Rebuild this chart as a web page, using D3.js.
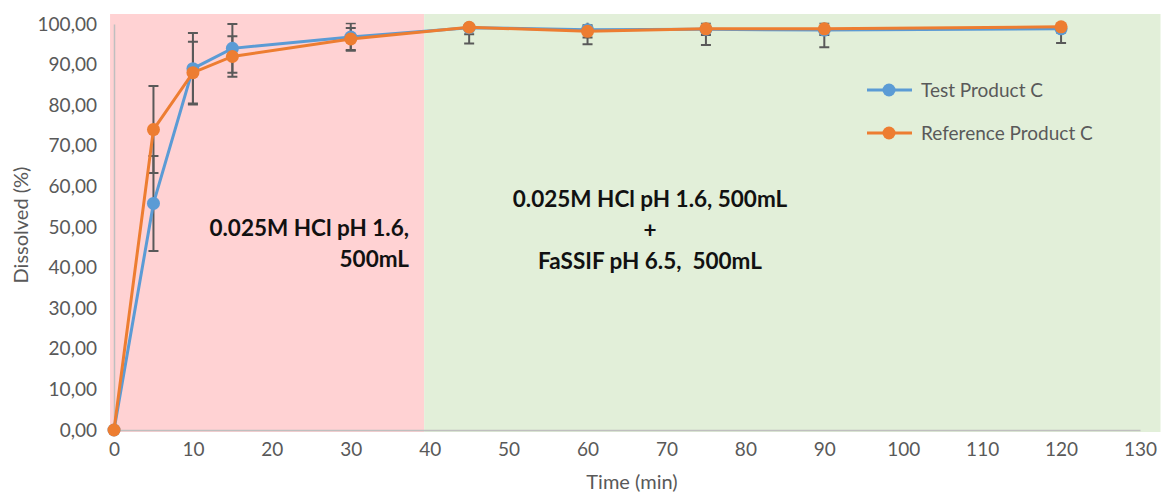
<!DOCTYPE html>
<html>
<head>
<meta charset="utf-8">
<script src="https://cdn.jsdelivr.net/npm/d3@7"></script>
<style>
  body { margin: 0; background: #fff; }
  text { font-family: Lato, "Open Sans", sans-serif; }
</style>
</head>
<body>
<div id="chart-area"></div>
<script>
const times = [0, 5, 10, 15, 30, 45, 60, 75, 90, 120]
const testValues = [0, 55.8, 89, 94, 96.8, 99.1, 98.6, 98.7, 98.5, 98.8]
const testSD = [0, 11.7, 8.8, 6, 3.4, 3.9, 3.6, 3.9, 4.2, 3.5]
const refValues = [0, 74, 88, 92, 96.3, 99.2, 98.2, 98.8, 98.8, 99.3]
const refSD = [0, 10.7, 7.6, 5, 2.7, 1.7, 1.5, 1.5, 1.5, 1.4]
const xTicks = [0, 10, 20, 30, 40, 50, 60, 70, 80, 90, 100, 110, 120, 130]
const yTicks = [0, 10, 20, 30, 40, 50, 60, 70, 80, 90, 100]
const phaseEdges = [-0.5, 39.3, 132.6]

const WIDTH = 1165
const HEIGHT = 492

const svg = d3.select("#chart-area").append("svg")
  .attr("width", WIDTH)
  .attr("height", HEIGHT)

const x = d3.scaleLinear().domain([0, 130]).range([114, 1140])
const y = d3.scaleLinear().domain([0, 100]).range([430, 24])

// background phases
svg.append("rect")
  .attr("x", x(phaseEdges[0]))
  .attr("y", 14)
  .attr("width", x(phaseEdges[1]) - x(phaseEdges[0]))
  .attr("height", 418)
  .attr("fill", "#ffd2d3")
svg.append("rect")
  .attr("x", x(phaseEdges[1]))
  .attr("y", 14)
  .attr("width", x(phaseEdges[2]) - x(phaseEdges[1]))
  .attr("height", 418)
  .attr("fill", "#e2efd9")

// axes
const fmt = d => d3.format(".2f")(d).replace(".", ",")
const yAxis = svg.append("g")
  .attr("transform", `translate(${x(0)},0)`)
  .call(d3.axisLeft(y).tickValues(yTicks).tickSize(0).tickPadding(17).tickFormat(fmt))
yAxis.select(".domain").attr("stroke", "#bfbfbf").attr("stroke-width", 1.5)
yAxis.selectAll("text").attr("fill", "#595959").style("font-size", "19px")

const xAxis = svg.append("g")
  .attr("transform", `translate(0,${y(0)})`)
  .call(d3.axisBottom(x).tickValues(xTicks).tickSize(0).tickPadding(13))
xAxis.select(".domain").attr("stroke", "#bfbfbf").attr("stroke-width", 1.5)
xAxis.selectAll("text").attr("fill", "#595959").style("font-size", "19px")

// axis labels
svg.append("text")
  .attr("x", 632)
  .attr("y", 489)
  .attr("text-anchor", "middle")
  .attr("fill", "#595959")
  .style("font-size", "20px")
  .text("Time (min)")

svg.append("text")
  .attr("transform", "translate(28,225) rotate(-90)")
  .attr("text-anchor", "middle")
  .attr("fill", "#595959")
  .style("font-size", "20px")
  .text("Dissolved (%)")

// clip for error bars
svg.append("clipPath").attr("id", "plot-clip")
  .append("rect")
  .attr("x", 100).attr("y", y(100.3))
  .attr("width", 1065).attr("height", y(-5) - y(100.3))

const series = [
  { name: "Test Product C", values: testValues, sd: testSD, color: "#5b9bd5" },
  { name: "Reference Product C", values: refValues, sd: refSD, color: "#ed7d31" }
]

// error bars
const errG = svg.append("g").attr("clip-path", "url(#plot-clip)")
series.forEach(s => {
  const pts = times.map((t, i) => ({ t, v: s.values[i], sd: s.sd[i] })).filter(d => d.sd > 0)
  const bars = errG.selectAll(null).data(pts).enter().append("g")
    .attr("stroke", "#595959").attr("stroke-width", 2)
  bars.append("line")
    .attr("x1", d => x(d.t)).attr("x2", d => x(d.t))
    .attr("y1", d => y(d.v - d.sd)).attr("y2", d => y(d.v + d.sd))
  bars.append("line")
    .attr("x1", d => x(d.t) - 5).attr("x2", d => x(d.t) + 5)
    .attr("y1", d => y(d.v - d.sd)).attr("y2", d => y(d.v - d.sd))
  bars.append("line")
    .attr("x1", d => x(d.t) - 5).attr("x2", d => x(d.t) + 5)
    .attr("y1", d => y(d.v + d.sd)).attr("y2", d => y(d.v + d.sd))
})

// lines and markers
const line = d3.line().x((d, i) => x(times[i])).y(d => y(d))
series.forEach(s => {
  svg.append("path")
    .datum(s.values)
    .attr("d", line)
    .attr("fill", "none")
    .attr("stroke", s.color)
    .attr("stroke-width", 3)
  svg.selectAll(null).data(s.values).enter().append("circle")
    .attr("cx", (d, i) => x(times[i]))
    .attr("cy", d => y(d))
    .attr("r", 6.5)
    .attr("fill", s.color)
})

// legend
series.forEach((s, i) => {
  const ly = 90 + i * 43
  svg.append("line")
    .attr("x1", 867).attr("x2", 912)
    .attr("y1", ly).attr("y2", ly)
    .attr("stroke", s.color).attr("stroke-width", 3)
  svg.append("circle")
    .attr("cx", 889).attr("cy", ly).attr("r", 6.5)
    .attr("fill", s.color)
  svg.append("text")
    .attr("x", 921).attr("y", ly)
    .attr("dy", "0.35em")
    .attr("fill", "#595959")
    .style("font-size", "19px")
    .text(s.name)
})

// phase annotations
const noteLeft = ["0.025M HCl pH 1.6,", "500mL"]
const noteRight = ["0.025M HCl pH 1.6, 500mL", "+", "FaSSIF pH 6.5,  500mL"]

svg.append("text")
  .attr("text-anchor", "end")
  .attr("fill", "#111")
  .style("font-size", "22.5px")
  .style("font-weight", "bold")
  .style("white-space", "pre")
  .selectAll("tspan").data(noteLeft).enter().append("tspan")
  .attr("x", 409)
  .attr("y", (d, i) => 236 + i * 31)
  .text(d => d)

svg.append("text")
  .attr("text-anchor", "middle")
  .attr("fill", "#111")
  .style("font-size", "22.5px")
  .style("font-weight", "bold")
  .style("white-space", "pre")
  .selectAll("tspan").data(noteRight).enter().append("tspan")
  .attr("x", 650)
  .attr("y", (d, i) => 207 + i * 31)
  .text(d => d)
</script>
</body>
</html>
